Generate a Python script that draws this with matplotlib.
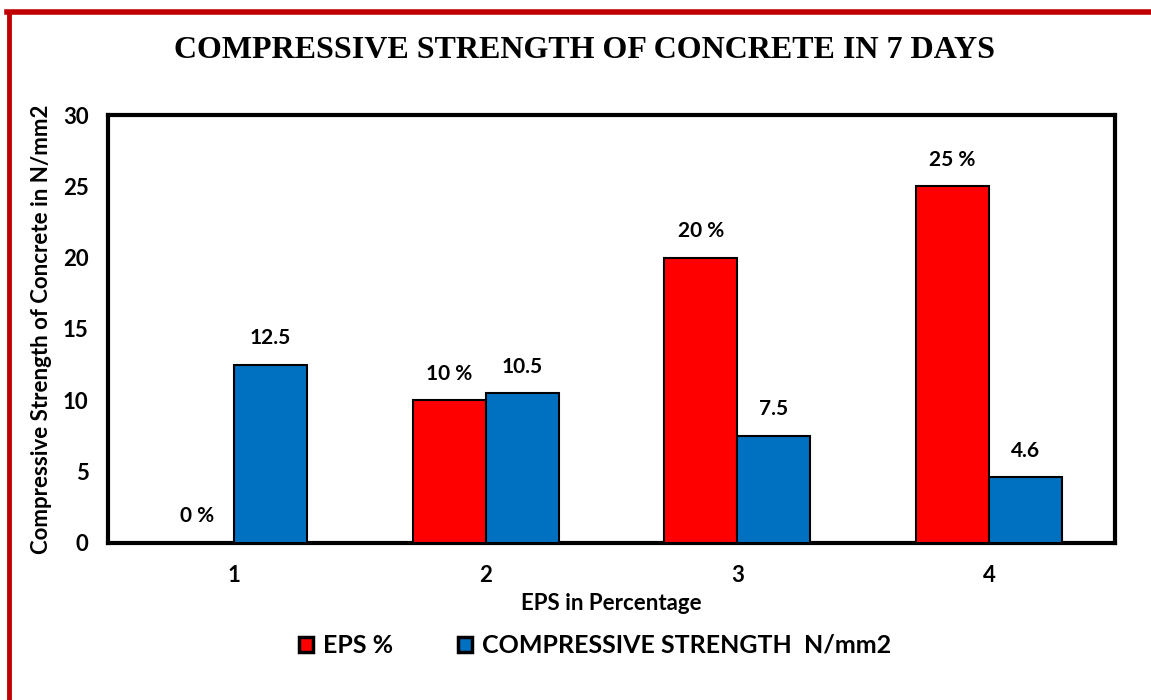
import numpy as np
import matplotlib
matplotlib.use("Agg")
import matplotlib.pyplot as plt
from matplotlib.lines import Line2D

# data
categories = ["1", "2", "3", "4"]
eps_percent = [0, 10, 20, 25]
strength = [12.5, 10.5, 7.5, 4.6]
eps_labels = ["0 %", "10 %", "20 %", "25 %"]
strength_labels = ["12.5", "10.5", "7.5", "4.6"]

RED = "#FF0000"
BLUE = "#0070C0"
BORDER = "#C00000"

plt.rcParams["font.family"] = ["Lato", "DejaVu Sans"]
plt.rcParams["font.weight"] = "bold"

fig = plt.figure(figsize=(11.51, 7.0), dpi=100)
ax = fig.add_axes([0.0938, 0.2243, 0.8749, 0.6114])

x = np.arange(len(categories))
w = 0.29
b1 = ax.bar(x - w / 2, eps_percent, w, color=RED, edgecolor="black", linewidth=1.5,
            label="EPS %", zorder=3)
b2 = ax.bar(x + w / 2, strength, w, color=BLUE, edgecolor="black", linewidth=1.5,
            label="COMPRESSIVE STRENGTH  N/mm2", zorder=3)
ax.bar_label(b1, labels=eps_labels, padding=12, fontsize=15, fontweight="bold")
ax.bar_label(b2, labels=strength_labels, padding=12, fontsize=15, fontweight="bold")

ax.set_xlim(-0.5, len(categories) - 0.5)
ax.set_ylim(0, 30)
ax.set_yticks([0, 5, 10, 15, 20, 25, 30])
ax.set_xticks(x)
ax.set_xticklabels(categories)
ax.tick_params(length=0, labelsize=16, pad=14)
ax.tick_params(axis="x", pad=16)
for s in ax.spines.values():
    s.set_linewidth(3)
    s.set_color("black")

ax.set_xlabel("EPS in Percentage", fontsize=16, fontweight="bold", labelpad=5)
ax.set_ylabel("Compressive Strength of Concrete in N/mm2", fontsize=16,
              fontweight="bold", labelpad=8)

fig.suptitle("COMPRESSIVE STRENGTH OF CONCRETE IN 7 DAYS", x=0.508, y=0.948,
             fontsize=23, fontweight="bold", family="Liberation Serif")

leg = fig.legend(loc="center", bbox_to_anchor=(0.517, 0.078), ncol=2, frameon=False,
                 fontsize=18, handlelength=0.55, handleheight=0.55, columnspacing=2.6,
                 handletextpad=0.4)
for h in leg.legend_handles:
    h.set_linewidth(2.5)

# red frame at the left and top of the picture
fig.add_artist(Line2D([9 / 1151, 9 / 1151], [0, 1 - 12 / 700], color=BORDER, lw=3.5,
                      transform=fig.transFigure))
fig.add_artist(Line2D([7 / 1151, 1], [1 - 12 / 700, 1 - 12 / 700], color=BORDER, lw=4,
                      transform=fig.transFigure))

fig.savefig("out.png", dpi=100)
